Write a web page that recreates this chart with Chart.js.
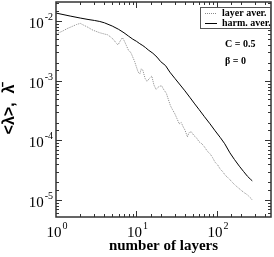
<!DOCTYPE html>
<html>
<head>
<meta charset="utf-8">
<script src="https://cdn.jsdelivr.net/npm/chart.js@4"></script>
<style>
  html, body { margin: 0; padding: 0; background: #fff; }
  #wrap { width: 274px; height: 257px; }
</style>
</head>
<body>
<div id="wrap"><canvas id="lambdaChart"></canvas></div>
<script>
// number of layers / <lambda> values
var layerX = [1, 1.2, 1.4, 1.6, 1.8, 2, 2.2, 2.5, 2.8, 3.1, 3.5, 4, 4.4, 4.8, 5.2, 5.6, 5.9, 6.3, 6.7, 7.1, 7.5, 8, 8.5, 9, 9.5, 10,
    10.5, 11, 11.5, 12, 12.8, 13.5, 14.5, 15.5, 16.5, 17.5, 19, 20.5, 22, 23.5, 25, 26.5, 28, 30, 32, 34, 36, 38, 40, 43, 45,
    48, 52, 56, 60, 65, 70, 76, 82, 88, 95, 102, 110, 118, 127, 136, 145, 160, 175, 190, 205, 220, 235, 250, 265, 275];
var layerAver = [0.0061, 0.0068, 0.0076, 0.0082, 0.0088, 0.0092, 0.0086, 0.0079, 0.0072, 0.0068, 0.0064, 0.0061, 0.0059, 0.0054,
    0.0049, 0.0043, 0.0040, 0.0047, 0.0053, 0.0046, 0.0039, 0.0032, 0.0030, 0.0025, 0.0021, 0.0017,
    0.0014, 0.0013, 0.0016, 0.0015, 0.0011, 0.00098, 0.0011, 0.0012, 0.00085, 0.00072, 0.00080, 0.00083, 0.00070, 0.00062,
    0.00048, 0.00038, 0.00033, 0.00028, 0.00023, 0.00019, 0.00020, 0.00017, 0.00015, 0.000115, 0.000135,
    0.00014, 0.00012, 0.00011, 9.5e-5, 8.8e-5, 7.8e-5, 6.6e-5, 6.0e-5, 5.2e-5, 4.3e-5, 3.9e-5, 3.3e-5, 3.0e-5, 2.6e-5,
    2.4e-5, 2.2e-5, 1.9e-5, 1.7e-5, 1.55e-5, 1.42e-5, 1.32e-5, 1.25e-5, 1.15e-5, 1.07e-5, 1.0e-5];

var harmX = [1, 1.5, 2, 2.5, 3, 3.5, 4, 5, 6, 7, 8, 9, 10, 11, 12, 13, 14, 16, 18, 20, 23, 26, 30, 35, 40, 46, 53, 60, 70,
    82, 95, 110, 125, 145, 165, 190, 215, 240, 260, 275];
var harmAver = [0.0137, 0.0122, 0.0113, 0.0107, 0.0103, 0.0099, 0.0094, 0.0083, 0.0073, 0.0064, 0.0056, 0.0050, 0.0046,
    0.0042, 0.0039, 0.0036, 0.0033, 0.0029, 0.0025, 0.0021, 0.0018, 0.0014, 0.0011, 0.00085, 0.00068, 0.00053, 0.00041,
    0.00033, 0.00025, 0.00019, 0.000145, 0.000112, 8.8e-5, 6.2e-5, 4.8e-5, 3.7e-5, 3.0e-5, 2.5e-5, 2.25e-5, 2.1e-5];

var seriesNames = ['layer aver.', 'harm. aver.'];
var notes = ['C = 0.5', 'β = 0'];

function toPoints(xs, ys) {
    return xs.map(function (x, i) { return { x: x, y: ys[i] }; });
}

function isDecade(v) {
    var l = Math.log10(v);
    return Math.abs(l - Math.round(l)) < 1e-6;
}

// frame, inward ticks, 10^n labels, legend and notes
var framePlugin = {
    id: 'frame',
    afterDraw: function (chart) {
        var ctx = chart.ctx, a = chart.chartArea;
        var xs = chart.scales.x, ys = chart.scales.y;
        ctx.save();
        ctx.strokeStyle = '#333';
        ctx.lineWidth = 1;

        xs.ticks.forEach(function (t) {
            var px = Math.round(xs.getPixelForValue(t.value)) + 0.5;
            if (px < a.left + 1 || px > a.right - 1) return;
            var len = isDecade(t.value) ? 6 : 3;
            ctx.beginPath();
            ctx.moveTo(px, a.bottom); ctx.lineTo(px, a.bottom - len);
            ctx.moveTo(px, a.top); ctx.lineTo(px, a.top + len);
            ctx.stroke();
        });
        ys.ticks.forEach(function (t) {
            var py = Math.round(ys.getPixelForValue(t.value)) + 0.5;
            if (py < a.top + 1 || py > a.bottom - 1) return;
            var len = isDecade(t.value) ? 6 : 3;
            ctx.beginPath();
            ctx.moveTo(a.left, py); ctx.lineTo(a.left + len, py);
            ctx.moveTo(a.right, py); ctx.lineTo(a.right - len, py);
            ctx.stroke();
        });

        ctx.lineWidth = 1.5;
        ctx.strokeRect(a.left, a.top, a.right - a.left, a.bottom - a.top);

        // tick labels 10^n
        ctx.fillStyle = '#000';
        ctx.textBaseline = 'alphabetic';
        function drawPow(v, cx, baseY, align) {
            var exp = String(Math.round(Math.log10(v)));
            ctx.font = '15px "Liberation Serif"';
            var w1 = ctx.measureText('10').width;
            ctx.font = '10px "Liberation Serif"';
            var w2 = ctx.measureText(exp).width + 1;
            var left = align === 'center' ? cx - w1 / 2 - 2 : cx - (w1 + w2);
            ctx.textAlign = 'left';
            ctx.font = '15px "Liberation Serif"';
            ctx.fillText('10', left, baseY);
            ctx.font = '10px "Liberation Serif"';
            ctx.fillText(exp, left + w1 + 1, baseY - 8);
        }
        xs.ticks.forEach(function (t) {
            if (!isDecade(t.value)) return;
            var px = xs.getPixelForValue(t.value);
            if (px < a.left - 1 || px > a.right + 1) return;
            drawPow(t.value, px, a.bottom + 20, 'center');
        });
        ys.ticks.forEach(function (t) {
            if (!isDecade(t.value)) return;
            var py = ys.getPixelForValue(t.value);
            if (py < a.top - 1 || py > a.bottom + 1) return;
            drawPow(t.value, a.left - 3, py + 7, 'right');
        });

        // legend box
        var lx = a.right - 71, ly = a.top + 5;
        ctx.lineWidth = 1;
        ctx.strokeStyle = '#555';
        ctx.fillStyle = '#fff';
        ctx.fillRect(lx, ly, 71, 22);
        ctx.strokeRect(lx + 0.5, ly + 0.5, 70, 21);
        chart.data.datasets.forEach(function (ds, i) {
            var yy = ly + 6 + i * 10;
            ctx.strokeStyle = ds.borderColor;
            ctx.setLineDash(ds.borderDash || []);
            ctx.beginPath();
            ctx.moveTo(lx + 5, yy + 0.5); ctx.lineTo(lx + 17, yy + 0.5);
            ctx.stroke();
            ctx.setLineDash([]);
            ctx.fillStyle = '#000';
            ctx.font = 'bold 10px "Liberation Serif"';
            ctx.textAlign = 'left';
            ctx.textBaseline = 'middle';
            ctx.fillText(ds.label, lx + 22, yy);
        });

        ctx.font = 'bold 10px "Liberation Serif"';
        ctx.textAlign = 'left';
        ctx.textBaseline = 'middle';
        ctx.fillText(notes[0], a.right - 46, a.top + 42);
        ctx.fillText(notes[1], a.right - 46, a.top + 59);
        ctx.restore();
    }
};

var ctx = document.getElementById('lambdaChart').getContext('2d');
var lambdaChart = new Chart(ctx, {
    type: 'line',
    data: {
        datasets: [{
            label: seriesNames[0],
            data: toPoints(layerX, layerAver),
            borderColor: '#8a8a8a',
            borderWidth: 1,
            borderDash: [1, 1],
            pointRadius: 0,
            tension: 0
        }, {
            label: seriesNames[1],
            data: toPoints(harmX, harmAver),
            borderColor: '#000',
            borderWidth: 1,
            pointRadius: 0,
            tension: 0
        }]
    },
    options: {
        responsive: true,
        maintainAspectRatio: false,
        animation: false,
        layout: { padding: { top: 2, right: 3, left: 0, bottom: 0 } },
        plugins: {
            legend: { display: false },
            tooltip: { enabled: false }
        },
        scales: {
            x: {
                type: 'logarithmic',
                min: 1,
                max: 470,
                grid: { display: false },
                border: { display: false },
                ticks: { display: false },
                title: {
                    display: true,
                    text: 'number of layers',
                    color: '#000',
                    font: { family: 'Liberation Serif', size: 15, weight: 'bold' },
                    padding: { top: 0, bottom: 2 }
                },
                afterFit: function (scale) { scale.height = 40; }
            },
            y: {
                type: 'logarithmic',
                min: 5.2e-6,
                max: 0.021,
                grid: { display: false },
                border: { display: false },
                ticks: { display: false },
                title: {
                    display: true,
                    text: '<λ>,  λ̄',
                    color: '#000',
                    font: { family: 'Liberation Sans', size: 16, weight: 'bold' },
                    padding: { top: 0, bottom: 0 }
                },
                afterFit: function (scale) { scale.width = 56; }
            }
        }
    },
    plugins: [framePlugin]
});
</script>
</body>
</html>
